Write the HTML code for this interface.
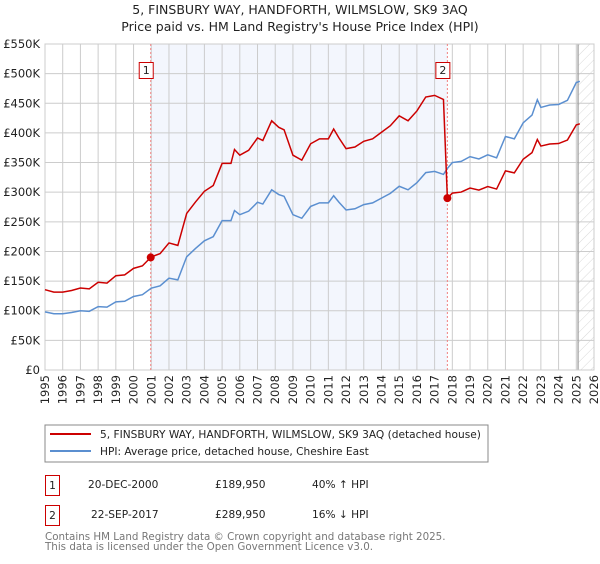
<!DOCTYPE html>
<html><head><meta charset="utf-8"><style>
body{margin:0;background:#fff;font-family:"DejaVu Sans","Liberation Sans",sans-serif;}
svg text{font-family:"DejaVu Sans","Liberation Sans",sans-serif;}
</style></head><body>
<svg id="chart" width="600" height="560" viewBox="0 0 600 560" xmlns="http://www.w3.org/2000/svg">
<defs><pattern id="hatch" width="7" height="7" patternUnits="userSpaceOnUse" patternTransform="rotate(45)"><line x1="0" y1="0" x2="0" y2="7" stroke="#c8c8c8" stroke-width="0.7"/></pattern></defs>
<text x="300" y="14" text-anchor="middle" font-size="12.5" fill="#222">5, FINSBURY WAY, HANDFORTH, WILMSLOW, SK9 3AQ</text>
<text x="300" y="31" text-anchor="middle" font-size="12.5" fill="#222">Price paid vs. HM Land Registry's House Price Index (HPI)</text>
<g id="plot"></g>
<rect x="45" y="425" width="443" height="37" fill="#fff" stroke="#888"/>
<line x1="50" y1="434" x2="91" y2="434" stroke="#cc0000" stroke-width="2"/>
<text x="100" y="438" font-size="10.6" fill="#222">5, FINSBURY WAY, HANDFORTH, WILMSLOW, SK9 3AQ (detached house)</text>
<line x1="50" y1="451" x2="91" y2="451" stroke="#5b8fd0" stroke-width="2"/>
<text x="100" y="455" font-size="10.6" fill="#222">HPI: Average price, detached house, Cheshire East</text>
<rect x="45.5" y="475.5" width="14" height="20" fill="#fff" stroke="#cc0000"/>
<text x="52.5" y="489" text-anchor="middle" font-size="10.6" fill="#222">1</text>
<text x="88" y="488" font-size="10.6" fill="#222">20-DEC-2000</text>
<text x="215" y="488" font-size="10.6" fill="#222">£189,950</text>
<text x="312" y="488" font-size="10.6" fill="#222">40% ↑ HPI</text>
<rect x="45.5" y="505.5" width="14" height="20" fill="#fff" stroke="#cc0000"/>
<text x="52.5" y="519" text-anchor="middle" font-size="10.6" fill="#222">2</text>
<text x="91" y="518" font-size="10.6" fill="#222">22-SEP-2017</text>
<text x="215" y="518" font-size="10.6" fill="#222">£289,950</text>
<text x="312" y="518" font-size="10.6" fill="#222">16% ↓ HPI</text>
<text x="45" y="540" font-size="10.3" fill="#777">Contains HM Land Registry data © Crown copyright and database right 2025.</text>
<text x="45" y="550" font-size="10.3" fill="#777">This data is licensed under the Open Government Licence v3.0.</text>
</svg>
<script>
const hpiYears=[1995,1995.5,1996,1996.5,1997,1997.5,1998,1998.5,1999,1999.5,2000,2000.5,2001,2001.5,2002,2002.5,2003,2003.5,2004,2004.5,2005,2005.5,2005.7,2006,2006.5,2007,2007.3,2007.8,2008.2,2008.5,2009,2009.5,2010,2010.5,2011,2011.3,2011.6,2012,2012.5,2013,2013.5,2014,2014.5,2015,2015.5,2016,2016.5,2017,2017.5,2017.72,2018,2018.5,2019,2019.5,2020,2020.5,2021,2021.5,2022,2022.5,2022.8,2023,2023.5,2024,2024.5,2025,2025.2];
const hpiValues=[98,95,95,97,100,99,107,106,115,116,124,127,138,142,155,152,191,205,218,225,252,252,269,262,268,283,280,304,296,293,262,256,276,282,282,294,283,270,272,279,282,290,298,310,304,316,333,335,330,340,350,352,360,356,363,358,394,390,417,430,456,443,447,448,455,485,487];
const saleYears=[2000.97,2017.72];
const salePrices=[189.95,289.95];
const yTicks=[0,50,100,150,200,250,300,350,400,450,500,550];
const yTickLabels=["£0","£50K","£100K","£150K","£200K","£250K","£300K","£350K","£400K","£450K","£500K","£550K"];
const xTicks=[1995,1996,1997,1998,1999,2000,2001,2002,2003,2004,2005,2006,2007,2008,2009,2010,2011,2012,2013,2014,2015,2016,2017,2018,2019,2020,2021,2022,2023,2024,2025,2026];
const X0=45,X1=594,Y0=370,Y1=44;
const xs=y=>X0+(y-1995)/(2026-1995)*(X1-X0);
const ys=v=>Y0-v/550*(Y0-Y1);
const NS="http://www.w3.org/2000/svg";
const g=document.getElementById('plot');
function mk(t,a){const e=document.createElementNS(NS,t);for(const k in a)e.setAttribute(k,a[k]);g.appendChild(e);return e;}
function hpiAt(t){for(let i=1;i<hpiYears.length;i++){if(t<=hpiYears[i]){const f=(t-hpiYears[i-1])/(hpiYears[i]-hpiYears[i-1]);return hpiValues[i-1]+f*(hpiValues[i]-hpiValues[i-1]);}}return hpiValues[hpiValues.length-1];}
let e;
e=mk('rect',{x:xs(saleYears[0]),y:Y1,width:xs(saleYears[1])-xs(saleYears[0]),height:Y0-Y1,fill:'#f3f6fd'});


e=mk('rect',{x:xs(2025.1),y:Y1,width:X1-xs(2025.1),height:Y0-Y1,fill:'url(#hatch)'});


xTicks.forEach((t,i)=>{
  e=mk('line',{x1:xs(t),x2:xs(t),y1:Y1,y2:Y0,stroke:'#ccc','stroke-width':1});
  
  
  e=mk('text',{x:0,y:0,transform:`translate(${xs(t)+4},${Y0+5}) rotate(-90)`,'text-anchor':'end','font-size':'11.5',fill:'#222'});
  e.textContent=t;
  
  
});
yTicks.forEach((v,i)=>{
  e=mk('line',{x1:X0,x2:X1,y1:ys(v),y2:ys(v),stroke:'#ccc','stroke-width':1});
  
  
  e=mk('text',{x:40,y:ys(v)+4,'text-anchor':'end','font-size':'11.5',fill:'#222'});
  e.textContent=yTickLabels[i];
  
  
});
e=mk('line',{x1:xs(2025.1),x2:xs(2025.1),y1:Y1,y2:Y0,stroke:'#999','stroke-width':1.2});


e=mk('rect',{x:X0,y:Y1,width:X1-X0,height:Y0-Y1,fill:'none',stroke:'#ccc'});


saleYears.forEach((t,i)=>{
  e=mk('line',{x1:xs(t),x2:xs(t),y1:Y1,y2:Y0,stroke:'#f08080','stroke-dasharray':'2,2','stroke-width':1});
  
  
});
e=mk('polyline',{points:hpiYears.map((t,i)=>xs(t)+','+ys(hpiValues[i])).join(' '),fill:'none',stroke:'#5b8fd0','stroke-width':1.5});


let pts=[];
hpiYears.forEach((t,i)=>{
  let k=t<saleYears[1]?0:1;
  if(t<saleYears[1]&&hpiYears[i+1]>saleYears[1]){pts.push([t,salePrices[0]*hpiValues[i]/hpiAt(saleYears[0])]);pts.push([saleYears[1],salePrices[0]*hpiAt(saleYears[1])/hpiAt(saleYears[0])]);pts.push([saleYears[1],salePrices[1]]);return;}
  pts.push([t,salePrices[k]*hpiValues[i]/hpiAt(saleYears[k])]);
});
e=mk('polyline',{points:pts.map(p=>xs(p[0])+','+ys(p[1])).join(' '),fill:'none',stroke:'#cc0000','stroke-width':1.5});


saleYears.forEach((t,i)=>{
  e=mk('circle',{cx:xs(t),cy:ys(salePrices[i]),r:4,fill:'#cc0000'});
  
  
  e=mk('rect',{x:xs(t)-11.5,y:62.5,width:14,height:16,fill:'#fff',stroke:'#cc0000'});
  
  
  e=mk('text',{x:xs(t)-4.5,y:74,'text-anchor':'middle','font-size':'11',fill:'#222'});
  e.textContent=String(i+1);
  
  
});
</script>
</body></html>
